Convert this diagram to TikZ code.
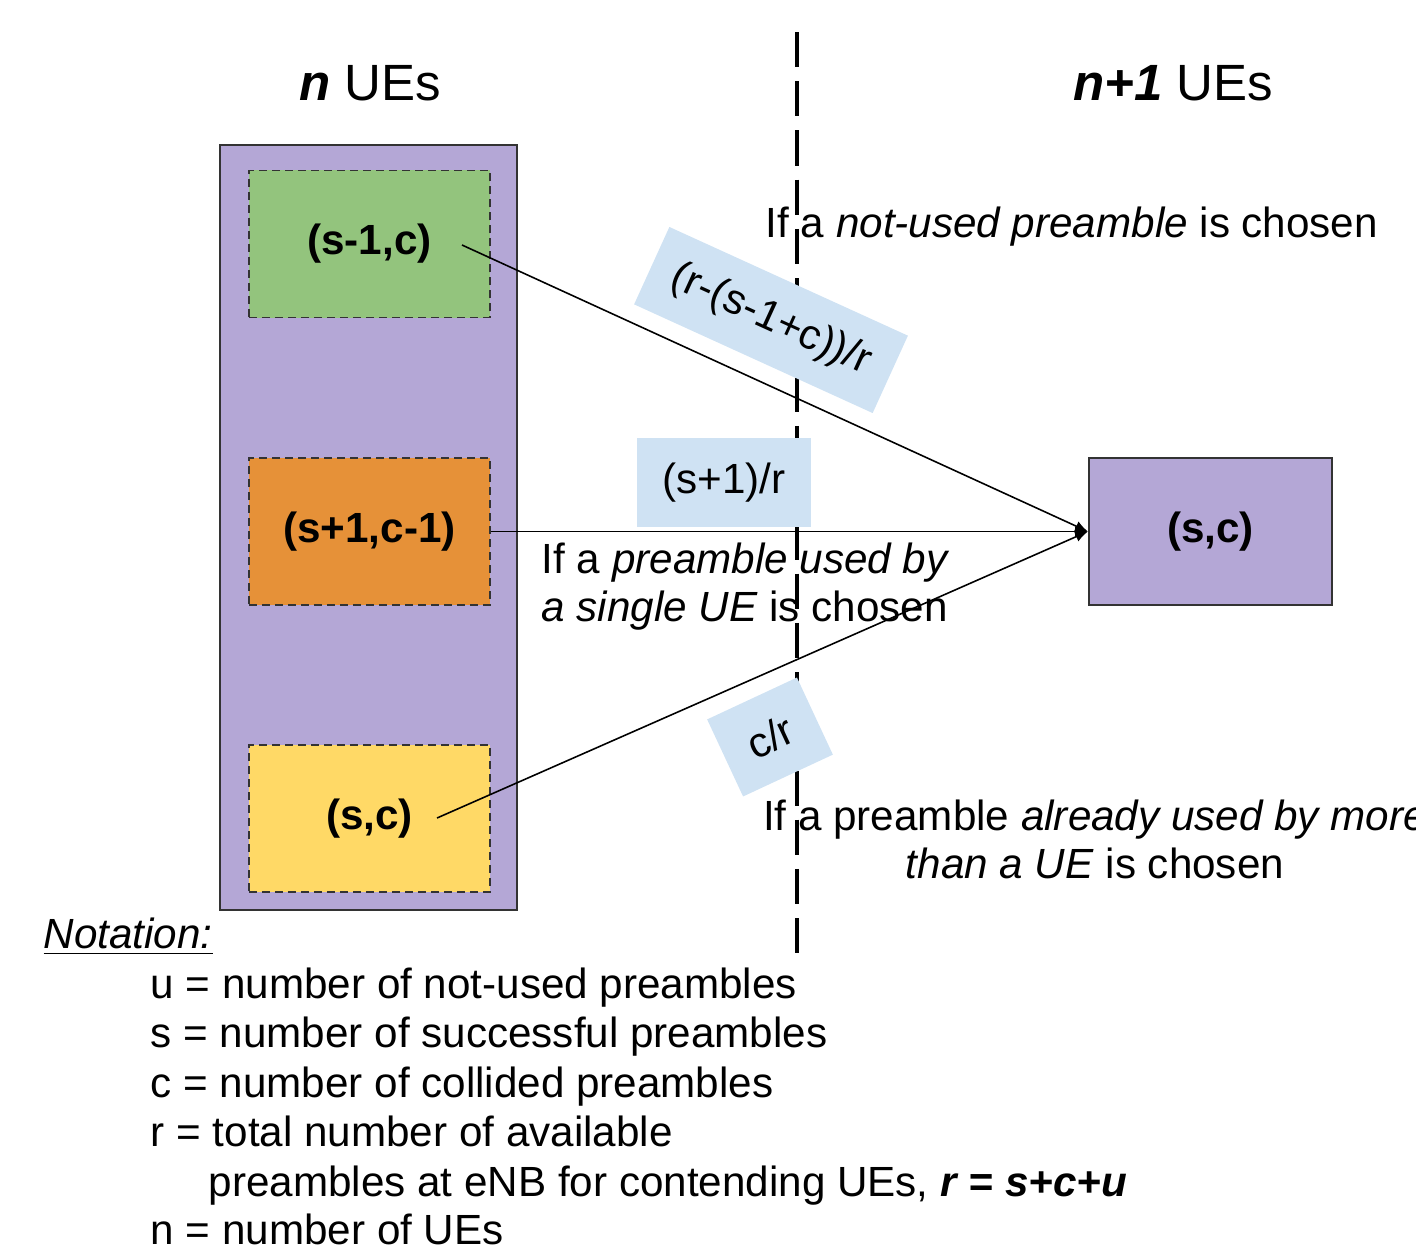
\documentclass[tikz,border=0pt]{standalone}
\usepackage{fontspec}
\setmainfont{Liberation Sans}
\usepackage{tikz}
\usetikzlibrary{arrows.meta}

\definecolor{uepurple}{HTML}{B4A7D6}
\definecolor{uegreen}{HTML}{93C47D}
\definecolor{ueorange}{HTML}{E69138}
\definecolor{ueyellow}{HTML}{FFD966}
\definecolor{probblue}{HTML}{CFE2F3}

\begin{document}
\begin{tikzpicture}[x=0.01cm, y=-0.01cm, font=\fontsize{12}{14}\selectfont,
  group/.style={draw=black!80, line width=0.6pt, fill=uepurple, inner sep=0pt},
  statebox/.style={draw=black!80, line width=0.5pt, dash pattern=on 2.3pt off 1.4pt, inner sep=0pt,
    minimum width=2.41cm, minimum height=1.47cm, font=\fontsize{12}{14}\selectfont\bfseries},
  prob/.style={fill=probblue, inner sep=0pt},
  remark/.style={inner sep=0pt, anchor=base west},
  edge/.style={-{Latex[length=3.6pt,width=3pt]}, line width=0.45pt}]
\useasboundingbox (0,0) rectangle (1416,1248);

% dividing line between n and n+1 UEs
\coordinate (divtop) at (797,32);
\coordinate (divbot) at (797,955);
\draw[line width=0.9pt, dash pattern=on 10pt off 4pt] (divtop) -- (divbot);

\node (tn) at (370,100) [anchor=base, font=\fontsize{14.5}{17}\selectfont] {\textbf{\textit{n}} UEs};
\node (tn1) at (1173,100) [anchor=base, font=\fontsize{14.5}{17}\selectfont] {\textbf{\textit{n+1}} UEs};

% states with n UEs
\node[group, minimum width=2.97cm, minimum height=7.65cm] (G) at (368.5,527.5) {};
\node[statebox, fill=uegreen] (S1) at (369.5,244) {(s-1,c)};
\node[statebox, fill=ueorange] (S2) at (369.5,531.5) {(s+1,c-1)};
\node[statebox, fill=ueyellow] (S3) at (369.5,818.5) {(s,c)};

% state with n+1 UEs
\node[group, minimum width=2.43cm, minimum height=1.47cm, font=\fontsize{12}{14}\selectfont\bfseries] (SC) at (1210.5,531.5) {(s,c)};

\coordinate (from1) at (462,245);
\coordinate (from3) at (437,818);
\draw[edge] (from1) -- (SC.west);
\draw[edge] (S2.east) -- (SC.west);
\draw[edge] (from3) -- (SC.west);

% transition probabilities
\node[prob, rotate=-24.5, minimum width=2.62cm, minimum height=0.85cm] (p1) at (771,320) {(r-(s-1+c))/r};
\node[prob, minimum width=1.74cm, minimum height=0.89cm] (p2) at (724,482.5) {(s+1)/r};
\node[prob, rotate=25, minimum width=0.99cm, minimum height=0.85cm] (p3) at (770,737) {c/r};

\node[remark] (c1) at (765,237) {If a \textit{not-used preamble} is chosen};
\node[remark] (c2a) at (541,573) {If a \textit{preamble} \textit{used by}};
\node[remark] (c2b) at (541,621) {\textit{a single UE} is chosen};
\node[remark, anchor=base] (c3a) at (1095,830) {If a preamble \textit{already used by more}};
\node[remark, anchor=base] (c3b) at (1095,878) {\textit{than a UE} is chosen};

% notation
\node[remark] (nt) at (43,948) {\underline{\textit{Notation:}}};
\node[remark] (nu) at (150,998) {u = number of not-used preambles};
\node[remark] (ns) at (150,1047) {s = number of successful preambles};
\node[remark] (nc) at (150,1097) {c = number of collided preambles};
\node[remark] (nr) at (150,1146) {r = total number of available};
\node[remark] (nr2) at (208,1196) {preambles at eNB for contending UEs, \textbf{\textit{r = s+c+u}}};
\node[remark] (nn) at (150,1244) {n = number of UEs};
\end{tikzpicture}
\end{document}
